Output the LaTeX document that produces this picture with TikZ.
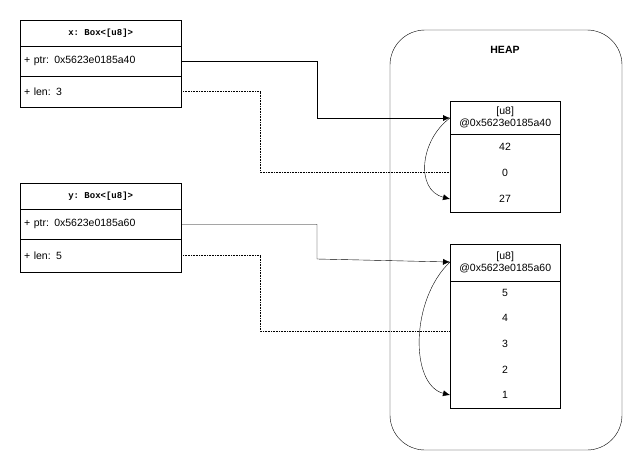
\documentclass[tikz,border=0pt]{standalone}
\usepackage{fontspec}
\setmainfont{Liberation Sans}
\setmonofont{Liberation Mono}
\usetikzlibrary{arrows.meta}

\begin{document}
\begin{tikzpicture}
[x=1pt,y=-1pt,
  cellDecorate/.style={draw,anchor=north west,minimum width=161pt,inner sep=0pt,font=\fontsize{10.5}{12}\selectfont},
  fieldDecorate/.style={cellDecorate,text width=153pt,align=left},
  titleDecorate/.style={cellDecorate,font=\fontsize{9}{11}\ttfamily\bfseries},
  heapDecorate/.style={draw,anchor=north west,minimum width=110pt,inner sep=0pt,align=center,font=\fontsize{10.5}{12}\selectfont},
  valDecorate/.style={anchor=center,font=\fontsize{10.5}{12}\selectfont},
  ptrDecorate/.style={-{Latex[length=7pt,width=6pt]}},
  lenDecorate/.style={densely dotted,semithick},
  curveDecorate/.style={-{Latex[length=7pt,width=6pt]}}]
\useasboundingbox (0,0) rectangle (641,472);
%% heap area
\draw[rounded corners=35pt] (390,30) rectangle (622,450);
\node[font=\fontsize{10.5}{12}\selectfont\bfseries] (heap) at (505,50) {HEAP};
%% stack boxes
\node[titleDecorate,minimum height=26pt] (xt) at (20,20) {x: Box<[u8]>};
\node[fieldDecorate,minimum height=30pt] (xptr) at (20,46) {+ ptr: 0x5623e0185a40};
\node[fieldDecorate,minimum height=31pt] (xlen) at (20,76) {+ len: 3};
\node[titleDecorate,minimum height=26pt] (yt) at (20,183) {y: Box<[u8]>};
\node[fieldDecorate,minimum height=30pt] (yptr) at (20,209) {+ ptr: 0x5623e0185a60};
\node[fieldDecorate,minimum height=33pt] (ylen) at (20,239) {+ len: 5};
%% heap arrays
\node[heapDecorate,minimum height=33pt] (ah) at (450,101) {[u8]\\@0x5623e0185a40};
\node[draw,anchor=north west,minimum width=110pt,minimum height=78pt] (ab) at (450,134) {};
\foreach \nodename/\val/\y in {a1/42/147, a2/0/173, a3/27/199}
{
  \node[valDecorate] (\nodename) at (505,\y) {\val};
}
\node[heapDecorate,minimum height=37pt] (bh) at (450,244) {[u8]\\@0x5623e0185a60};
\node[draw,anchor=north west,minimum width=110pt,minimum height=127pt] (bb) at (450,281) {};
\foreach \nodename/\val/\y in {b1/5/293, b2/4/318, b3/3/344, b4/2/370, b5/1/395}
{
  \node[valDecorate] (\nodename) at (505,\y) {\val};
}
%% connectors
\coordinate (ain) at (450,118);
\coordinate (aend) at (450,199);
\coordinate (aoff) at (450,172);
\coordinate (bin) at (450,262);
\coordinate (bend) at (450,395);
\coordinate (boff) at (450,331);
\draw[ptrDecorate] (xptr.east) -| (317,118) -- (ain);
\draw[lenDecorate] (xlen.east) -| (260,172) -- (aoff);
\draw[ptrDecorate] (yptr.east) -| (317,259) -- (bin);
\draw[lenDecorate] (ylen.east) -| (260,331) -- (boff);
\draw[curveDecorate] (ain) .. controls (420,140) and (415,190) .. (aend);
\draw[curveDecorate] (bin) .. controls (410,300) and (410,385) .. (bend);
\end{tikzpicture}
\end{document}
